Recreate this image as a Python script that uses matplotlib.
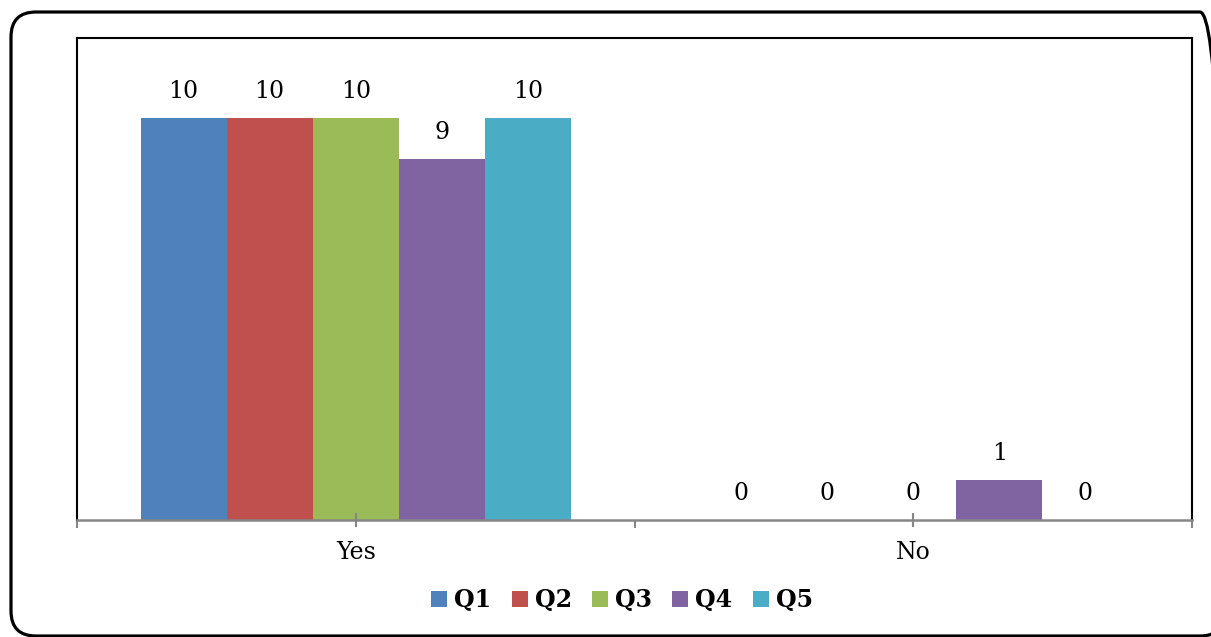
import numpy as np
import matplotlib
matplotlib.use("Agg")
from matplotlib import pyplot as plt
from matplotlib.patches import FancyBboxPatch, Patch
from matplotlib.transforms import IdentityTransform

# data
categories = ["Yes", "No"]
series_names = ["Q1", "Q2", "Q3", "Q4", "Q5"]
values = {
    "Q1": [10, 0],
    "Q2": [10, 0],
    "Q3": [10, 0],
    "Q4": [9, 1],
    "Q5": [10, 0],
}
colors = ["#4F81BD", "#C0504D", "#9BBB59", "#8064A2", "#4BACC6"]

plt.rcParams['font.family'] = ['DejaVu Serif']

fig = plt.figure(figsize=(12.11, 6.37), dpi=100)
W, H = 1211, 637
ax = fig.add_axes([77 / W, 1 - 520 / H, (1192 - 77) / W, (520 - 38) / H])

x = np.arange(len(categories))
bar_w = 0.1544
for i, name in enumerate(series_names):
    pos = x + (i - 2) * bar_w
    ax.bar(pos, values[name], width=bar_w, color=colors[i], label=name)
    # value labels above each bar
    for px, v in zip(pos, values[name]):
        ax.annotate(str(v), (px, v), xytext=(0, 19), textcoords="offset points",
                    ha="center", va="center", fontsize=17)

ax.set_xlim(-0.5, 1.5)
ax.set_ylim(0, 12.0)
ax.set_yticks([])

# category ticks and boundary ticks
ax.set_xticks(x)
ax.set_xticklabels(categories, fontsize=17)
ax.set_xticks([-0.5, 0.5, 1.5], minor=True)
ax.tick_params(axis="x", which="major", direction="inout", length=10,
               width=1.5, color="#868686", pad=10)
ax.tick_params(axis="x", which="minor", direction="out", length=5.5,
               width=1.5, color="#868686")

for side in ["left", "top", "right"]:
    ax.spines[side].set_color("black")
    ax.spines[side].set_linewidth(1.5)
ax.spines["bottom"].set_color("#868686")
ax.spines["bottom"].set_linewidth(1.8)

# legend
handles = [Patch(facecolor=c, edgecolor="none") for c in colors]
fig.legend(handles, series_names, loc="center", bbox_to_anchor=(622 / W, 1 - 600 / H),
           ncol=5, frameon=False, prop={"weight": "bold", "size": 17},
           handlelength=0.68, handleheight=0.68, handletextpad=0.3,
           columnspacing=0.85)

# rounded outer border, right edge runs just off the picture
border = FancyBboxPatch((11, 1), 1214, 624, boxstyle="round,pad=0,rounding_size=25",
                        transform=IdentityTransform(), facecolor="none",
                        edgecolor="black", linewidth=2.3)
fig.add_artist(border)

fig.savefig("out.png", dpi=100)
